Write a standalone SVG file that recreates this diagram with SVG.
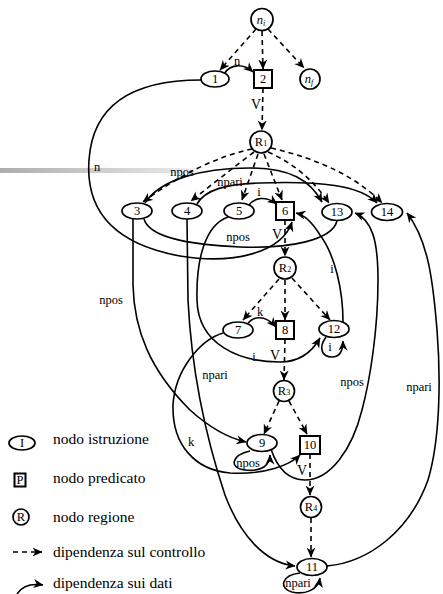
<svg xmlns="http://www.w3.org/2000/svg" width="443" height="594" viewBox="0 0 443 594">
  <defs>
    <linearGradient id="bar" x1="0" y1="0" x2="1" y2="0">
      <stop offset="0" stop-color="#adadad"/>
      <stop offset="0.85" stop-color="#e6e6e6"/>
      <stop offset="1" stop-color="#ffffff"/>
    </linearGradient>
    <marker id="ah" viewBox="0 0 10 10" refX="9.5" refY="5" markerWidth="10" markerHeight="10" markerUnits="userSpaceOnUse" orient="auto">
      <path d="M0,0.5 L10,5 L0,9.5 L3,5 Z" fill="#000"/>
    </marker>
  </defs>
  <style>
    .node { fill: #fff; stroke: #000; stroke-width: 1.7; }
    .pred { fill: #fff; stroke: #000; stroke-width: 2; }
    .lbl { font-family: "Liberation Serif", "Times New Roman", serif; font-size: 12.5px; fill: #000; text-anchor: middle; }
    .elab { font-family: "Liberation Serif", "Times New Roman", serif; font-size: 12.5px; fill: #000; text-anchor: middle; }
    .vlab { font-family: "Liberation Serif", "Times New Roman", serif; font-size: 14px; fill: #000; text-anchor: middle; }
    .leg { font-family: "Liberation Serif", "Times New Roman", serif; font-size: 15.5px; fill: #000; }
    .ctrl { fill: none; stroke: #000; stroke-width: 1.6; stroke-dasharray: 5 4; marker-end: url(#ah); }
    .data { fill: none; stroke: #000; stroke-width: 1.6; marker-end: url(#ah); }
    .plain { fill: none; stroke: #000; stroke-width: 1.6; }
  </style>

  <!-- faded horizontal rule behind the upper part -->
  <rect x="0" y="168" width="210" height="5" fill="url(#bar)"/>

  <!-- connectors -->
  <g id="connectors">
    <!-- control dependences -->
    <path class="ctrl" d="M256,29 L220,70"/>
    <path class="ctrl" d="M262,31 L263,69"/>
    <path class="ctrl" d="M268,29 L304,68"/>
    <path class="ctrl" d="M263,88 L262,130"/>
    <path class="ctrl" d="M252,149 Q200,160 143,202"/>
    <path class="ctrl" d="M254,152 Q220,178 191,201"/>
    <path class="ctrl" d="M258,154 L242,200"/>
    <path class="ctrl" d="M264,154 L282,200"/>
    <path class="ctrl" d="M268,152 Q305,168 329,203"/>
    <path class="ctrl" d="M271,148 Q345,165 382,203"/>
    <path class="ctrl" d="M285,220 L285,256"/>
    <path class="ctrl" d="M279,279 L243,320"/>
    <path class="ctrl" d="M285,280 L285,320"/>
    <path class="ctrl" d="M292,278 L330,320"/>
    <path class="ctrl" d="M285,339 L284,380"/>
    <path class="ctrl" d="M279,401 L264,434"/>
    <path class="ctrl" d="M289,401 L307,434"/>
    <path class="ctrl" d="M310,454 L310,495"/>
    <path class="ctrl" d="M311,518 L311,557"/>

    <!-- data dependences -->
    <path class="data" d="M224,74 C230,64 243,63 253,72"/>
    <path class="data" d="M201,80 C140,80 93,100 89,160 C85,215 120,245 180,256 C235,265 282,252 292,222"/>
    <path class="plain" d="M144,219 C150,240 200,245 240,247 C290,249 332,240 337,221"/>
    <path class="data" d="M145,203 C160,180 200,168 250,168 C290,168 310,180 322,202"/>
    <path class="data" d="M197,204 C205,190 225,184 260,183 C320,181 360,185 377,203"/>
    <path class="data" d="M249,205 C255,197 266,196 277,204"/>
    <path class="data" d="M133,219 L133,285 C134,330 150,370 190,410 C210,428 228,438 246,442"/>
    <path class="data" d="M187,219 L188,300 C192,380 210,450 225,495 C240,535 265,563 295,566"/>
    <path class="data" d="M228,217 C205,225 196,260 197,300 C198,345 240,362 280,362 C300,362 312,352 320,338"/>
    <path class="data" d="M343,322 C343,290 335,255 320,235 C312,222 305,215 296,213"/>
    <path class="data" d="M326,337 C318,348 322,357 332,357 C340,357 343,350 343,341"/>
    <path class="data" d="M247,325 C252,316 265,314 276,327"/>
    <path class="data" d="M223,333 C200,340 175,370 173,405 C172,445 195,470 230,473 C265,475 290,465 300,455"/>
    <path class="data" d="M250,451 C232,455 228,468 245,470 C262,472 270,465 270,455"/>
    <path class="data" d="M271,449 C278,470 290,480 305,480 C330,480 352,450 362,410 C370,380 378,330 378,280 C378,240 372,220 355,213"/>
    <path class="data" d="M327,566 C370,562 410,530 428,480 C440,440 441,380 437,330 C433,280 428,240 407,213"/>
    <path class="data" d="M300,573 C282,575 278,588 292,592 C305,595 318,590 320,578"/>
  </g>

  <!-- connector labels -->
  <g id="edge-labels">
    <text class="elab" x="237" y="65">n</text>
    <text class="vlab" x="256" y="109">V</text>
    <text class="elab" x="97" y="171">n</text>
    <text class="elab" x="182" y="176">npos</text>
    <text class="elab" x="230" y="186">npari</text>
    <text class="elab" x="259" y="196">i</text>
    <text class="elab" x="238" y="241">npos</text>
    <text class="vlab" x="277" y="239">V</text>
    <text class="elab" x="332" y="273">i</text>
    <text class="elab" x="260" y="316">k</text>
    <text class="elab" x="254" y="361">i</text>
    <text class="vlab" x="275" y="360">V</text>
    <text class="elab" x="330" y="351">i</text>
    <text class="elab" x="215" y="379">npari</text>
    <text class="elab" x="111" y="304">npos</text>
    <text class="elab" x="352" y="386">npos</text>
    <text class="elab" x="419" y="391">npari</text>
    <text class="elab" x="191" y="446">k</text>
    <text class="elab" x="248" y="467">npos</text>
    <text class="vlab" x="302" y="475">V</text>
    <text class="elab" x="298" y="587">npari</text>
  </g>

  <!-- nodes -->
  <g id="n-i"><circle class="node" cx="262" cy="19.5" r="11"/><text class="lbl" x="261" y="23.5" font-style="italic">n<tspan font-size="8" dy="2">i</tspan></text></g>
  <g id="n-f"><circle class="node" cx="310" cy="79" r="10"/><text class="lbl" x="309" y="83" font-style="italic">n<tspan font-size="8" dy="2">f</tspan></text></g>
  <g id="node-1"><ellipse class="node" cx="215" cy="79" rx="14" ry="8"/><text class="lbl" x="215" y="83">1</text></g>
  <g id="node-2"><rect class="pred" x="254" y="70" width="18" height="18"/><text class="lbl" x="263" y="83">2</text></g>
  <g id="node-R1"><circle class="node" cx="261" cy="142" r="11"/><text class="lbl" x="261" y="146">R<tspan font-size="8">1</tspan></text></g>
  <g id="node-3"><ellipse class="node" cx="137" cy="211" rx="15" ry="8"/><text class="lbl" x="137" y="215">3</text></g>
  <g id="node-4"><ellipse class="node" cx="187" cy="211" rx="15" ry="8"/><text class="lbl" x="187" y="215">4</text></g>
  <g id="node-5"><ellipse class="node" cx="239" cy="211" rx="15" ry="8"/><text class="lbl" x="239" y="215">5</text></g>
  <g id="node-6"><rect class="pred" x="276" y="202" width="18" height="18"/><text class="lbl" x="285" y="215">6</text></g>
  <g id="node-13"><ellipse class="node" cx="337" cy="212" rx="15" ry="8.5"/><text class="lbl" x="337" y="216">13</text></g>
  <g id="node-14"><ellipse class="node" cx="387" cy="212" rx="15.5" ry="8.5"/><text class="lbl" x="387" y="216">14</text></g>
  <g id="node-R2"><circle class="node" cx="285" cy="268" r="11"/><text class="lbl" x="285" y="272">R<tspan font-size="8">2</tspan></text></g>
  <g id="node-7"><ellipse class="node" cx="238" cy="330" rx="15" ry="8"/><text class="lbl" x="238" y="334">7</text></g>
  <g id="node-8"><rect class="pred" x="276" y="321" width="18" height="18"/><text class="lbl" x="285" y="334">8</text></g>
  <g id="node-12"><ellipse class="node" cx="334" cy="329" rx="15" ry="8.5"/><text class="lbl" x="334" y="333">12</text></g>
  <g id="node-R3"><circle class="node" cx="284" cy="391" r="10.5"/><text class="lbl" x="284" y="395">R<tspan font-size="8">3</tspan></text></g>
  <g id="node-9"><ellipse class="node" cx="262" cy="443" rx="15" ry="8.5"/><text class="lbl" x="262" y="447">9</text></g>
  <g id="node-10"><rect class="pred" x="300" y="436" width="20" height="18"/><text class="lbl" x="310" y="449">10</text></g>
  <g id="node-R4"><circle class="node" cx="311" cy="507" r="10.5"/><text class="lbl" x="311" y="511">R<tspan font-size="8">4</tspan></text></g>
  <g id="node-11"><ellipse class="node" cx="312" cy="567" rx="15" ry="8.5"/><text class="lbl" x="312" y="571">11</text></g>

  <!-- legend -->
  <g id="legend">
    <ellipse class="node" cx="22" cy="443" rx="13" ry="7"/>
    <text class="lbl" x="22" y="447" font-size="10">I</text>
    <rect class="pred" x="14.5" y="473.5" width="11" height="13" stroke-width="1.6"/>
    <text class="lbl" x="20" y="484" font-size="10">P</text>
    <circle class="node" cx="21" cy="517" r="8"/>
    <text class="lbl" x="21" y="521" font-size="10">R</text>
    <path class="ctrl" d="M13,552 L42,552"/>
    <path class="data" d="M17,594 C22,586 30,583 43,585"/>
    <text class="leg" x="53" y="444">nodo istruzione</text>
    <text class="leg" x="53" y="483">nodo predicato</text>
    <text class="leg" x="53" y="522">nodo regione</text>
    <text class="leg" x="53" y="557">dipendenza sul controllo</text>
    <text class="leg" x="53" y="588">dipendenza sui dati</text>
  </g>
</svg>
